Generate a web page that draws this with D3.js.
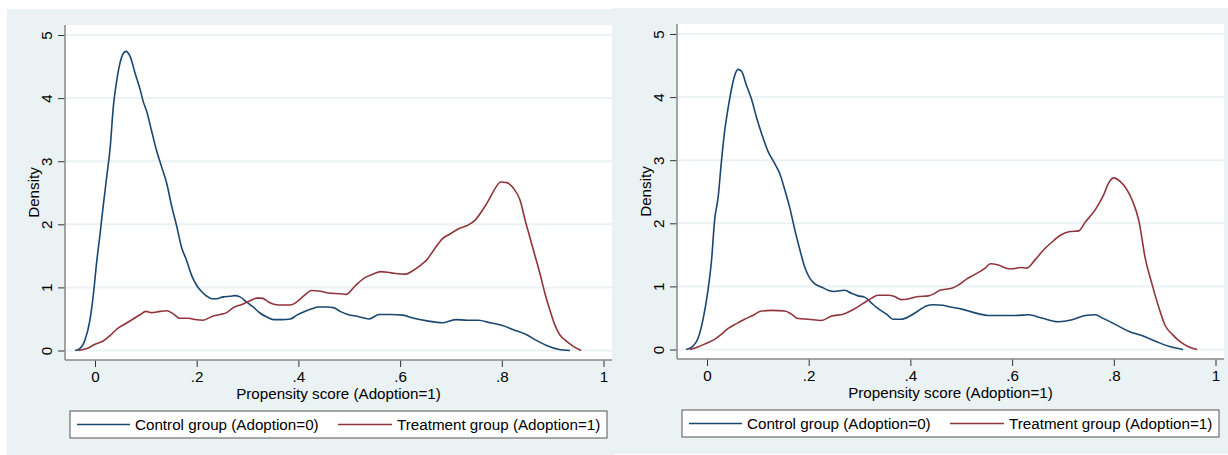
<!DOCTYPE html>
<html lang="en">
    <head>
        <meta charset="utf-8">
        <title>Propensity score density</title>
        <script type="text/javascript" src="https://cdn.jsdelivr.net/npm/d3@7"></script>
        <style type="text/css">
            body { margin: 0; background: #ffffff; }
            svg text {
                font-family: "Liberation Sans", Arial, sans-serif;
                font-size: 15.2px;
                fill: #000;
            }
        </style>
    </head>
    <body>
        <div class="chart"></div>
        <script type="text/javascript">
            // tick values and labels
            var xTicks = [0, 0.2, 0.4, 0.6, 0.8, 1];
            var xTickLabels = ["0", ".2", ".4", ".6", ".8", "1"];
            var yTicks = [0, 1, 2, 3, 4, 5];
            var yTickLabels = ["0", "1", "2", "3", "4", "5"];
            var seriesNames = ["Control group (Adoption=0)", "Treatment group (Adoption=1)"];

            // left panel, control group: [score, density]
            var leftControl = [[-0.039,0],[-0.030,0.03],[-0.020,0.16],[-0.010,0.48],[-0.003,0.90],[0.003,1.38],
                [0.010,1.85],[0.016,2.28],[0.023,2.75],[0.030,3.23],[0.036,3.86],[0.043,4.29],[0.049,4.55],
                [0.056,4.71],[0.061,4.74],[0.069,4.66],[0.079,4.39],[0.089,4.13],[0.095,3.94],[0.102,3.78],
                [0.111,3.49],[0.121,3.17],[0.131,2.91],[0.141,2.65],[0.151,2.28],[0.161,1.96],[0.170,1.64],
                [0.180,1.43],[0.190,1.19],[0.200,1.03],[0.210,0.93],[0.220,0.86],[0.230,0.82],[0.239,0.82],
                [0.252,0.85],[0.266,0.86],[0.275,0.87],[0.285,0.85],[0.298,0.77],[0.311,0.69],[0.325,0.59],
                [0.338,0.53],[0.351,0.49],[0.367,0.49],[0.384,0.50],[0.397,0.56],[0.410,0.61],[0.426,0.66],
                [0.439,0.69],[0.456,0.69],[0.469,0.68],[0.482,0.62],[0.497,0.57],[0.517,0.54],[0.539,0.50],
                [0.559,0.57],[0.582,0.57],[0.605,0.56],[0.627,0.51],[0.653,0.47],[0.683,0.44],[0.709,0.49],
                [0.732,0.48],[0.754,0.48],[0.777,0.44],[0.800,0.40],[0.823,0.33],[0.849,0.25],[0.868,0.16],
                [0.888,0.08],[0.911,0.02],[0.934,0]];
            // left panel, treatment group
            var leftTreatment = [[-0.033,0],[-0.016,0.03],[0.0,0.10],[0.016,0.15],[0.030,0.24],[0.043,0.34],
                [0.059,0.42],[0.075,0.50],[0.089,0.57],[0.100,0.62],[0.111,0.60],[0.128,0.62],[0.141,0.63],
                [0.154,0.58],[0.167,0.51],[0.184,0.51],[0.197,0.49],[0.213,0.48],[0.230,0.54],[0.246,0.57],
                [0.259,0.60],[0.272,0.68],[0.289,0.73],[0.305,0.79],[0.318,0.83],[0.328,0.83],[0.341,0.77],
                [0.354,0.73],[0.367,0.72],[0.384,0.72],[0.397,0.77],[0.410,0.86],[0.426,0.95],[0.443,0.94],
                [0.459,0.91],[0.482,0.90],[0.494,0.89],[0.510,1.01],[0.530,1.15],[0.546,1.21],[0.562,1.25],
                [0.582,1.23],[0.611,1.21],[0.624,1.26],[0.640,1.35],[0.653,1.44],[0.666,1.59],[0.683,1.77],
                [0.699,1.85],[0.715,1.93],[0.732,1.98],[0.748,2.07],[0.761,2.21],[0.774,2.38],[0.787,2.57],
                [0.798,2.67],[0.810,2.66],[0.823,2.57],[0.836,2.38],[0.846,2.06],[0.855,1.80],[0.865,1.51],
                [0.875,1.22],[0.885,0.90],[0.895,0.63],[0.904,0.41],[0.914,0.25],[0.927,0.15],[0.940,0.07],
                [0.956,0]];
            // right panel, control group
            var rightControl = [[-0.041,0],[-0.028,0.05],[-0.018,0.17],[-0.008,0.47],[0.001,0.89],[0.009,1.42],
                [0.015,2.05],[0.022,2.42],[0.028,2.95],[0.035,3.48],[0.040,3.75],[0.048,4.12],[0.054,4.33],
                [0.061,4.44],[0.068,4.41],[0.077,4.20],[0.087,3.98],[0.097,3.69],[0.107,3.43],[0.120,3.14],
                [0.133,2.95],[0.143,2.79],[0.153,2.53],[0.163,2.24],[0.172,1.92],[0.182,1.60],[0.192,1.31],
                [0.202,1.13],[0.212,1.04],[0.225,0.99],[0.238,0.94],[0.251,0.92],[0.261,0.93],[0.271,0.94],
                [0.284,0.89],[0.297,0.85],[0.310,0.83],[0.323,0.74],[0.336,0.65],[0.353,0.56],[0.366,0.48],
                [0.382,0.48],[0.399,0.53],[0.415,0.61],[0.431,0.69],[0.445,0.71],[0.464,0.70],[0.481,0.67],
                [0.501,0.64],[0.527,0.58],[0.553,0.54],[0.580,0.54],[0.606,0.54],[0.632,0.55],[0.658,0.50],
                [0.691,0.44],[0.718,0.47],[0.744,0.54],[0.764,0.55],[0.777,0.50],[0.800,0.41],[0.829,0.29],
                [0.855,0.22],[0.882,0.13],[0.908,0.05],[0.936,0]];
            // right panel, treatment group
            var rightTreatment = [[-0.034,0],[-0.018,0.04],[-0.001,0.10],[0.015,0.16],[0.028,0.24],[0.041,0.33],
                [0.058,0.41],[0.074,0.48],[0.090,0.54],[0.107,0.61],[0.127,0.62],[0.153,0.61],[0.166,0.56],
                [0.179,0.49],[0.199,0.48],[0.225,0.46],[0.245,0.53],[0.268,0.56],[0.287,0.63],[0.307,0.73],
                [0.323,0.81],[0.336,0.86],[0.356,0.86],[0.369,0.84],[0.382,0.79],[0.395,0.80],[0.415,0.84],
                [0.435,0.85],[0.448,0.89],[0.458,0.94],[0.481,0.97],[0.494,1.02],[0.511,1.12],[0.527,1.19],
                [0.547,1.29],[0.557,1.36],[0.573,1.34],[0.593,1.28],[0.603,1.28],[0.616,1.30],[0.629,1.29],
                [0.645,1.42],[0.662,1.58],[0.678,1.70],[0.695,1.81],[0.714,1.87],[0.731,1.88],[0.744,2.02],
                [0.764,2.22],[0.780,2.45],[0.790,2.64],[0.800,2.72],[0.813,2.66],[0.826,2.53],[0.836,2.37],
                [0.849,2.05],[0.862,1.44],[0.875,1.04],[0.888,0.68],[0.901,0.38],[0.915,0.24],[0.931,0.12],
                [0.948,0.04],[0.964,0]];

            var colors = ["#1a476f", "#90353b"];
            var bgColor = "#eaf2f3";

            var w = 1228;
            var h = 455;
            var svg = d3.select("div.chart")
                        .append("svg")
                        .attr("width", w)
                        .attr("height", h);

            // one Stata-style panel
            function drawPanel(ox, oy, bgX, bgW, control, treatment) {
                var g = svg.append("g").attr("transform", "translate(" + ox + "," + oy + ")");
                var plotL = 65, plotR = 612, plotT = 25, plotB = 360;

                g.append("rect").attr("x", bgX).attr("y", 9).attr("width", bgW).attr("height", h - 9)
                 .attr("fill", bgColor);
                g.append("rect").attr("x", plotL).attr("y", plotT)
                 .attr("width", plotR - plotL).attr("height", plotB - plotT).attr("fill", "#fff");

                var xScale = d3.scaleLinear().domain([0, 1]).range([95, 603.5]);
                var yScale = d3.scaleLinear().domain([0, 5]).range([350.5, 35]);

                // grid lines
                g.selectAll("line.grid").data(yTicks).enter().append("line")
                 .attr("class", "grid")
                 .attr("x1", plotL).attr("x2", plotR)
                 .attr("y1", function(d){return yScale(d);})
                 .attr("y2", function(d){return yScale(d);})
                 .attr("stroke", bgColor).attr("stroke-width", 2);

                // curves
                var line = d3.line()
                             .x(function(d){return xScale(d[0]);})
                             .y(function(d){return yScale(d[1]);})
                             .curve(d3.curveMonotoneX);
                [control, treatment].forEach(function(s, i) {
                    g.append("path").datum(s).attr("d", line)
                     .attr("fill", "none").attr("stroke", colors[i]).attr("stroke-width", 1.6);
                });

                // axes
                var xAxis = d3.axisBottom(xScale).tickValues(xTicks).tickSize(7).tickPadding(3)
                              .tickFormat(function(d, i){return xTickLabels[i];});
                var gx = g.append("g").attr("transform", "translate(0," + plotB + ")").call(xAxis);
                var yAxis = d3.axisLeft(yScale).tickValues(yTicks).tickSize(7).tickPadding(0)
                              .tickFormat(function(d, i){return yTickLabels[i];});
                var gy = g.append("g").attr("transform", "translate(" + plotL + ",0)").call(yAxis);
                [gx, gy].forEach(function(a) {
                    a.select(".domain").remove();
                    a.selectAll(".tick line").attr("stroke", "#333").attr("stroke-width", 1);
                    a.selectAll(".tick text").attr("font-family", null).attr("font-size", null);
                });
                gy.selectAll(".tick text")
                  .attr("x", null).attr("dy", null)
                  .attr("text-anchor", "middle")
                  .attr("transform", "translate(-13,0) rotate(-90)");
                gx.selectAll(".tick text").attr("dy", null).attr("y", 22);

                g.append("line").attr("x1", plotL).attr("x2", plotL).attr("y1", plotT).attr("y2", plotB)
                 .attr("stroke", "#888").attr("stroke-width", 1.5);
                g.append("line").attr("x1", plotL).attr("x2", plotR).attr("y1", plotB).attr("y2", plotB)
                 .attr("stroke", "#888").attr("stroke-width", 1.5);

                // axis titles
                g.append("text").attr("x", (plotL + plotR) / 2).attr("y", 399)
                 .attr("text-anchor", "middle").text("Propensity score (Adoption=1)");
                g.append("text").attr("transform", "translate(39," + ((plotT + plotB) / 2) + ") rotate(-90)")
                 .attr("text-anchor", "middle").text("Density");

                // legend
                g.append("rect").attr("x", 70).attr("y", 411).attr("width", 537).attr("height", 27)
                 .attr("fill", "#fff").attr("stroke", "#555").attr("stroke-width", 1);
                var legX = [[77, 130, 135], [338, 392, 397]];
                seriesNames.forEach(function(n, i) {
                    g.append("line").attr("x1", legX[i][0]).attr("x2", legX[i][1])
                     .attr("y1", 424.5).attr("y2", 424.5)
                     .attr("stroke", colors[i]).attr("stroke-width", 1.6);
                    g.append("text").attr("x", legX[i][2]).attr("y", 430).text(n);
                });
            }

            drawPanel(0, 0, 7, 606, leftControl, leftTreatment);
            drawPanel(612, -1, 1, 616, rightControl, rightTreatment);
        </script>
    </body>
</html>
